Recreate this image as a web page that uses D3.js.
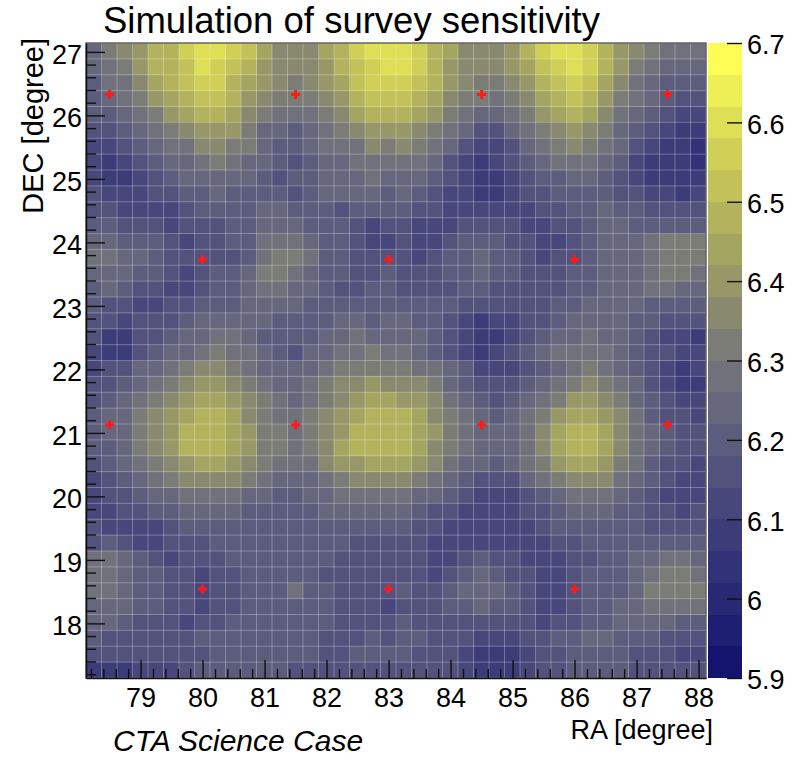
<!DOCTYPE html>
<html lang="en">
<head>
<meta charset="UTF-8">
<title>Simulation of survey sensitivity</title>
<script src="https://cdnjs.cloudflare.com/ajax/libs/d3/7.8.2/d3.min.js"></script>
<style>
    body { margin: 0; background: #ffffff; }
    svg { display: block; font-family: "Liberation Sans", Arial, Helvetica, sans-serif; }
    .axis text { fill: #000; }
    .axis line { stroke: #111; stroke-width: 1.4px; }
</style>
</head>
<body>
<svg width="797" height="758"></svg>
<script>
    // binning of the 2D histogram (degrees)
    const raLow = 78.12, decLow = 17.14, binSize = 0.25;

    // colour band index per bin, one char per RA bin (0..9, a..j), top row = highest DEC
    // value of a bin = zMin + levelStep * (band + 0.5)
    const sensitivityRows = [
        "8abceeghhgfdbbbdeghhhgedbbbceghhgecba999",
        "89aceefhgfecbbbcefghhgecbbbcdfghgeca9888",
        "799bdefggedcbabcdfgggfecbaabcefgfdb98777",
        "789acdeffecbaaabcefffedbaa9abdefeca98766",
        "7789acdeedba999abdeeedca9889acdedb987655",
        "66789abccca88789abcccba986689abcba876544",
        "5567899bbaa8778999baba98655689aba9865443",
        "54567889a9887678899999865456789998754443",
        "5445678888876778889888765445677887654444",
        "6555667787777678888787655445667777665545",
        "6655556777788777677776655555566778776666",
        "7766656667788877765665556666556678877777",
        "8877765667799987765565567776655678889aaa",
        "998876666679aa97766665677877656678889aaa",
        "88877656778aa987766766677877666778889aa9",
        "7876655677899887667766667766666778889988",
        "7665566777888877777777776666667788887777",
        "6656667888887777887887765455667888877666",
        "6446678899877778898888765445678898876554",
        "54467889a998768899a998765456789999876655",
        "566889abba988889aaaaa99875556789a9876545",
        "66789abccba9889abbcbbba87666789aba986544",
        "6789abcddcba989abcddccb9876789accba87655",
        "788abcdeedba99abcdeeedba98789acddcb97665",
        "788abceeedcaa9abceeeedca98889bdeedb98766",
        "778abceeedcaa9abdeeeedba98889bdeedb98766",
        "6789abcddcba999bccdddcb988789acddca97665",
        "56789abbbba98889abbbba98766689abbb987655",
        "5667889999887788999998876555678999876555",
        "5566778888777778888887665555667888776656",
        "6555567777777777777776655555567777776666",
        "6765566677777777766666555555556677777777",
        "9987656667777777666666556766555667788998",
        "9987766566777776666666567876655677789aa9",
        "998776656677797766667667888765567778aaaa",
        "8887766566777777666566677877655677889999",
        "8876665667777777666676666666656677888877",
        "7666666777777776667677666555667788777666",
        "6666666677777776677776665444566777766655",
        "4445556777777666666666665444566777766666"
    ];

    const zMin = 5.9, zMax = 6.7, levelStep = 0.04;
    const zTicks = [5.9, 6.0, 6.1, 6.2, 6.3, 6.4, 6.5, 6.6, 6.7];
    const raTicks = [79, 80, 81, 82, 83, 84, 85, 86, 87, 88];
    const decTicks = [18, 19, 20, 21, 22, 23, 24, 25, 26, 27];

    // telescope pointings (red crosses)
    const pointingRA  = [78.5, 81.5, 84.5, 87.5, 80, 83, 86, 78.5, 81.5, 84.5, 87.5, 80, 83, 86];
    const pointingDEC = [26.33, 26.33, 26.33, 26.33, 23.73, 23.73, 23.73,
                         21.13, 21.13, 21.13, 21.13, 18.54, 18.54, 18.54];

    // colour bands of the palette, from 5.9 (bottom) to 6.7 (top)
    const palette = [
        "#14146e", "#1e1e72", "#282875", "#323278", "#3c3c79",
        "#47477b", "#52527c", "#5c5c7d", "#66667d", "#71717b",
        "#7c7c76", "#89896f", "#979768", "#a5a562", "#b3b35d",
        "#c2c259", "#d0d056", "#dfdf55", "#eeee55", "#fdfd55"
    ];

    const svg = d3.select("svg");
    const nRows = sensitivityRows.length, nCols = sensitivityRows[0].length;

    const x = d3.scaleLinear().domain([raLow, raLow + nCols * binSize]).range([86, 706]);
    const y = d3.scaleLinear().domain([decLow, decLow + nRows * binSize]).range([678, 43]);
    const color = d3.scaleQuantize().domain([zMin, zMax]).range(palette);

    const cells = [];
    sensitivityRows.forEach((row, r) => {
        Array.from(row).forEach((ch, c) => {
            const band = parseInt(ch, 36);
            if (isNaN(band)) return;
            cells.push({
                ra0: raLow + c * binSize,
                dec0: decLow + (nRows - 1 - r) * binSize,
                value: zMin + levelStep * (band + 0.5)
            });
        });
    });

    svg.append("g")
        .attr("shape-rendering", "crispEdges")
        .selectAll("rect")
        .data(cells)
        .enter().append("rect")
        .attr("x", d => x(d.ra0))
        .attr("y", d => y(d.dec0 + binSize))
        .attr("width", d => x(d.ra0 + binSize) - x(d.ra0))
        .attr("height", d => y(d.dec0) - y(d.dec0 + binSize))
        .attr("fill", d => color(d.value));

    // faint bin borders
    const grid = svg.append("g")
        .attr("stroke", "#ffffff")
        .attr("stroke-opacity", 0.28)
        .attr("stroke-width", 1);
    grid.selectAll(".gx")
        .data(d3.range(1, nCols))
        .enter().append("line")
        .attr("x1", i => x(raLow + i * binSize)).attr("x2", i => x(raLow + i * binSize))
        .attr("y1", y.range()[1]).attr("y2", y.range()[0]);
    grid.selectAll(".gy")
        .data(d3.range(1, nRows))
        .enter().append("line")
        .attr("y1", i => y(decLow + i * binSize)).attr("y2", i => y(decLow + i * binSize))
        .attr("x1", x.range()[0]).attr("x2", x.range()[1]);

    // frame
    svg.append("rect")
        .attr("x", x.range()[0]).attr("y", y.range()[1])
        .attr("width", x.range()[1] - x.range()[0])
        .attr("height", y.range()[0] - y.range()[1])
        .attr("fill", "none")
        .attr("stroke", "#666")
        .attr("stroke-width", 1.5);

    // pointings
    svg.append("g")
        .selectAll("path")
        .data(pointingRA.map((ra, i) => ({ ra: ra, dec: pointingDEC[i] })))
        .enter().append("path")
        .attr("d", d3.symbol(d3.symbolCross, 45))
        .attr("transform", d => `translate(${x(d.ra)},${y(d.dec)})`)
        .attr("fill", "#ff1a1a");

    // x axis (ticks inside the frame, ROOT style)
    const raMinor = d3.range(391, 442).map(i => i / 5)
        .filter(v => v > x.domain()[0] && v < x.domain()[1] && !raTicks.includes(v));
    const xg = svg.append("g").attr("class", "axis").attr("transform", "translate(0,678)");
    xg.call(d3.axisBottom(x).tickValues(raTicks).tickSize(-18).tickSizeOuter(0).tickPadding(10).tickFormat(d3.format("d")));
    xg.append("g").call(d3.axisBottom(x).tickValues(raMinor).tickSize(-9).tickSizeOuter(0).tickFormat(""))
        .select(".domain").remove();
    xg.selectAll("text").attr("font-size", 27);
    xg.select(".domain").attr("stroke", "#111").attr("stroke-width", 1.5);

    // y axis
    const decMinor = d3.range(86, 137).map(i => i / 5)
        .filter(v => v > y.domain()[0] && v < y.domain()[1] && !decTicks.includes(v));
    const yg = svg.append("g").attr("class", "axis").attr("transform", "translate(86,0)");
    yg.call(d3.axisLeft(y).tickValues(decTicks).tickSize(-19).tickSizeOuter(0).tickPadding(4).tickFormat(d3.format("d")));
    yg.append("g").call(d3.axisLeft(y).tickValues(decMinor).tickSize(-10).tickSizeOuter(0).tickFormat(""))
        .select(".domain").remove();
    yg.selectAll("text").attr("font-size", 27).attr("dy", "0.42em");
    yg.select(".domain").attr("stroke", "#111").attr("stroke-width", 1.5);

    // colour palette bar
    const z = d3.scaleLinear().domain([zMin, zMax]).range([678, 43]);
    svg.append("g")
        .attr("shape-rendering", "crispEdges")
        .selectAll("rect")
        .data(palette.map((c, i) => ({ lo: zMin + i * levelStep, hi: zMin + (i + 1) * levelStep, c: c })))
        .enter().append("rect")
        .attr("x", 708)
        .attr("width", 34)
        .attr("y", d => z(d.hi))
        .attr("height", d => z(d.lo) - z(d.hi))
        .attr("fill", d => d.c);

    const zg = svg.append("g").attr("class", "axis").attr("transform", "translate(742,0)");
    zg.call(d3.axisRight(z).tickValues(zTicks).tickSize(-15).tickSizeOuter(0).tickPadding(5).tickFormat(d3.format(".1~f")));
    zg.select(".domain").remove();
    zg.selectAll("text").attr("font-size", 27).attr("dy", "0.4em");

    // titles
    svg.append("text")
        .attr("x", 103).attr("y", 33)
        .attr("font-size", 36.5)
        .text("Simulation of survey sensitivity");

    svg.append("text")
        .attr("x", 713).attr("y", 739)
        .attr("text-anchor", "end")
        .attr("font-size", 27)
        .text("RA [degree]");

    svg.append("text")
        .attr("transform", "translate(43,38) rotate(-90)")
        .attr("text-anchor", "end")
        .attr("font-size", 29)
        .text("DEC [degree]");

    svg.append("text")
        .attr("x", 113).attr("y", 751)
        .attr("font-size", 30)
        .attr("font-style", "italic")
        .text("CTA Science Case");
</script>
</body>
</html>
